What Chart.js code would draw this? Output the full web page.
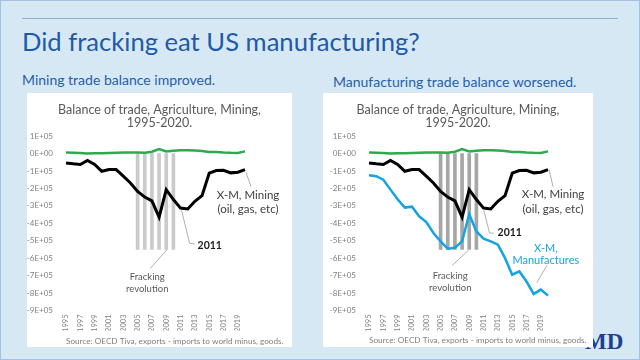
<!DOCTYPE html>
<html><head><meta charset="utf-8">
<script src="https://cdn.jsdelivr.net/npm/chart.js@4.4.1/dist/chart.umd.min.js"></script>
<style>
html,body{margin:0;padding:0;}
body{width:640px;height:360px;overflow:hidden;background:#d7e8f5;position:relative;font-family:Lato,sans-serif;}
.frame{position:absolute;left:0;top:0;width:638px;height:358px;border:1px solid #a3c2df;}
.rule{position:absolute;left:22px;top:18px;width:596px;height:1px;background:#8fb0d2;}
h1{position:absolute;left:22px;top:27px;margin:0;font-weight:400;font-size:25.6px;line-height:28px;color:#1f5aa8;white-space:nowrap;}
.sub{position:absolute;margin:0;font-size:14px;line-height:16px;color:#2560a8;white-space:nowrap;}
.panel{position:absolute;top:93px;height:254px;background:#fff;z-index:2;}
.panel canvas{display:block;}
.logo{position:absolute;left:585px;top:329px;font:bold 23px "Liberation Serif",serif;color:#1b3f95;z-index:1;}
</style></head>
<body>
<div class="frame"></div>
<div class="rule"></div>
<h1>Did fracking eat US manufacturing?</h1>
<p class="sub" style="left:22px;top:72px;">Mining trade balance improved.</p>
<p class="sub" style="left:333px;top:74px;">Manufacturing trade balance worsened.</p>
<div class="logo">MD</div>
<div class="panel" style="left:27px;width:265px;"><canvas id="c1" width="265" height="254"></canvas></div>
<div class="panel" style="left:323px;width:270px;"><canvas id="c2" width="270" height="254"></canvas></div>
<script>
// ---- data ----
const years = ['1995','1996','1997','1998','1999','2000','2001','2002','2003','2004','2005','2006','2007',
               '2008','2009','2010','2011','2012','2013','2014','2015','2016','2017','2018','2019','2020'];
const agricultureBalance = [5000,4000,3000,0,1000,2000,3000,4000,5000,6000,5000,4000,10000,
                            25000,12000,16000,18000,18000,17000,14000,8000,9000,6000,4000,3000,12000];
const miningBalance = [-54000,-59000,-63000,-40000,-63000,-102000,-92000,-92000,-130000,-169000,-217000,-250000,-272000,
                       -365000,-207000,-264000,-313000,-318000,-274000,-242000,-113000,-98000,-96000,-111000,-107000,-92000];
const manufacturesBalance = [-125000,-130000,-150000,-207000,-262000,-310000,-305000,-360000,-393000,-456000,-504000,-546000,-540000,
                             -504000,-348000,-447000,-488000,-504000,-523000,-600000,-695000,-676000,-734000,-805000,-780000,-815000];
const frackingBars = [null,null,null,null,null,null,null,null,null,null,-550000,-550000,-550000,
                      -550000,-550000,-550000,null,null,null,null,null,null,null,null,null,null];
const yMin = -900000, yMax = 100000, yStep = 100000;
const chartTitle = ['Balance of trade, Agriculture, Mining,', '1995-2020.'];
const sourceText = 'Source: OECD Tiva, exports - imports to world minus, goods.';

function sci(v){ if(v===0) return '0E+00'; const m=v/1e5; return (m<0?'-':'')+Math.abs(m)+'E+05'; }

Chart.defaults.font.family = 'Lato';

const notesPlugin = {
  id:'notes',
  afterDatasetsDraw(chart, args, opts){
    const ctx = chart.ctx, xs = chart.scales.x, ys = chart.scales.y;
    (opts.items||[]).forEach(it=>{
      const i = years.indexOf(it.year);
      const ds = chart.data.datasets.find(d=>d.key===it.ds);
      const px = xs.getPixelForValue(i), py = ys.getPixelForValue(ds.data[i]);
      ctx.save();
      ctx.strokeStyle = '#a6a6a6'; ctx.lineWidth = 0.9;
      ctx.beginPath();
      it.path.forEach((p,k)=> k ? ctx.lineTo(px+p[0],py+p[1]) : ctx.moveTo(px+p[0],py+p[1]));
      ctx.stroke();
      ctx.fillStyle = it.color; ctx.font = it.font; ctx.textAlign = it.align||'center'; ctx.textBaseline='middle';
      it.text.forEach((t,k)=> ctx.fillText(t, px+it.tx, py+it.ty+k*(it.lh||12)));
      ctx.restore();
    });
    const a = chart.chartArea;
    ctx.save();
    ctx.fillStyle='#7f7f7f'; ctx.font='8.2px Lato'; ctx.textAlign='left'; ctx.textBaseline='middle';
    ctx.fillText(sourceText, a.left, a.bottom + opts.srcDy);
    ctx.restore();
  }
};

function makeChart(id, g, withManuf, barColor, items, srcDy){
  const datasets = [
    {key:'agri', label:'Agriculture', data:agricultureBalance, borderColor:'#2eaa4e', borderWidth:2.5, pointRadius:0, tension:0, order:1},
    {key:'mining', label:'X-M, Mining', data:miningBalance, borderColor:'#000000', borderWidth:3, pointRadius:0, tension:0, order:0}
  ];
  if(withManuf) datasets.push({key:'manuf', label:'X-M, Manufactures', data:manufacturesBalance, borderColor:'#14a3e3', borderWidth:2.5, pointRadius:0, tension:0, order:0});
  datasets.push({key:'fracking', type:'bar', label:'Fracking revolution', data:frackingBars, backgroundColor:barColor, barThickness:3, order:5});
  return new Chart(document.getElementById(id), {
    type:'line',
    data:{labels:years, datasets},
    options:{
      responsive:false, animation:false, devicePixelRatio:1,
      layout:{padding:{top:10.5, right:0, bottom:36.5 - g.xH, left:0}},
      plugins:{
        legend:{display:false}, tooltip:{enabled:false},
        title:{display:true, text:chartTitle, color:'#595959', font:{family:'Lato', size:12.5, weight:'normal', lineHeight:1.05}, padding:{top:0,bottom:6.3}},
        notes:{items, srcDy}
      },
      scales:{
        x:{type:'category', offset:false, grid:{display:false, drawTicks:false}, border:{display:false},
           ticks:{autoSkip:false, minRotation:90, maxRotation:90, padding:4, color:'#7f7f7f', font:{size:7.5},
                  callback:(v,i)=> i%2===0 ? years[i] : ''},
           afterFit:s=>{s.height=g.xH;}},
        y:{min:yMin, max:yMax, grid:{display:false, drawTicks:false}, border:{display:false},
           ticks:{stepSize:yStep, padding:13, color:'#7f7f7f', font:{size:8}, callback:v=>sci(v)},
           afterFit:s=>{s.width=g.left;}},
        spacer:{type:'linear', position:'right', display:true, min:yMin, max:yMax,
           grid:{display:false, drawTicks:false}, border:{display:false}, ticks:{display:false},
           afterFit:s=>{s.width=g.w - g.right;}}
      }
    },
    plugins:[notesPlugin]
  });
}

const lblFont='11.5px Lato', dark='#404040';
makeChart('c1', {w:265, right:218, left:39, xH:20}, false, '#cacaca', [
  {ds:'mining', year:'2020', path:[[1,3],[6,17]], text:['X-M, Mining','(oil, gas, etc)'], tx:3, ty:26, lh:14, font:lblFont, color:dark},
  {ds:'mining', year:'2011', path:[[1,2],[9,35],[14,36]], text:['2011'], tx:17, ty:38, font:'bold 10.5px Lato', color:'#1a1a1a', align:'left'},
  {ds:'fracking', year:'2009', path:[[1,0],[-16,19]], text:['Fracking','revolution'], tx:-19, ty:27, lh:12, font:'9.5px Lato', color:'#595959'}
], 31);
makeChart('c2', {w:270, right:225, left:46, xH:20}, true, '#a6a6a6', [
  {ds:'mining', year:'2020', path:[[1,0],[5,17]], text:['X-M, Mining','(oil, gas, etc)'], tx:5, ty:24.5, lh:15, font:lblFont, color:dark},
  {ds:'mining', year:'2011', path:[[0,1],[6,25],[10,25]], text:['2011'], tx:14, ty:25, font:'bold 10.5px Lato', color:'#1a1a1a', align:'left'},
  {ds:'manuf', year:'2019', path:[[6,-24],[-4,-7]], text:['X-M,','Manufactures'], tx:5, ty:-41, lh:12, font:'11px Lato', color:'#14a3e3'},
  {ds:'fracking', year:'2009', path:[[-1,1],[-17,16]], text:['Fracking','revolution'], tx:-19, ty:26, lh:12.3, font:'9.5px Lato', color:'#595959'}
], 29.5);
</script>
</body></html>
